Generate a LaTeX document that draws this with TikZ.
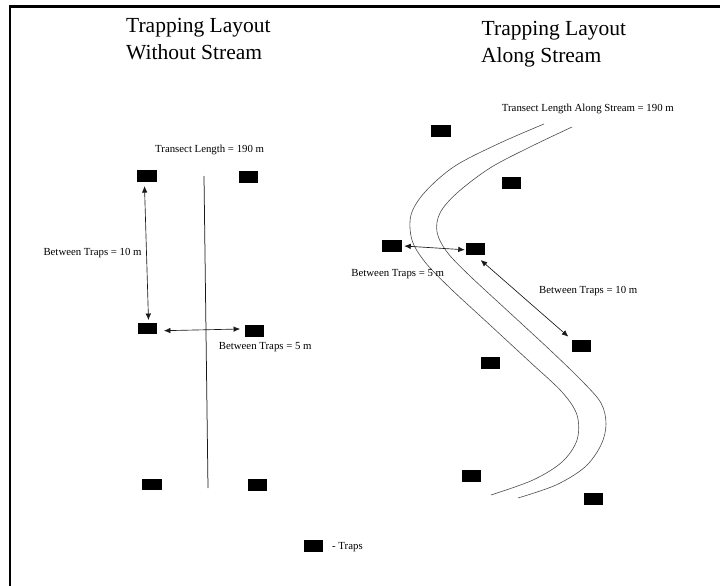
\documentclass[tikz,border=0pt]{standalone}
\usepackage{fontspec}
\setmainfont{Liberation Serif}
\usetikzlibrary{arrows.meta}
\begin{document}
\begin{tikzpicture}[x=1pt,y=1pt,
  trap/.style={fill=black, draw=none, minimum width=19.5pt, minimum height=11.7pt, inner sep=0pt, outer sep=0pt},
  lbl/.style={font=\fontsize{10.8}{13}\selectfont, inner sep=0pt, anchor=base west},
  ttl/.style={font=\fontsize{21.5}{26}\selectfont, inner sep=0pt, anchor=base west},
  dimarrow/.style={{Latex[length=6.5pt,width=5.5pt]}-{Latex[length=6.5pt,width=5.5pt]}, line width=0.65pt, black!90},
  stream/.style={line width=0.6pt, black!70},
  transect/.style={line width=0.75pt, black!90},
]
\useasboundingbox (0,0) rectangle (720,-586);
\fill[white] (0,0) rectangle (720,-586);
% frame
\draw[line width=2.7pt, line join=miter] (720,-6.7) -- (10,-6.7) -- (10,-586);

% titles
\node[ttl] (tl1) at (126,-32.3) {Trapping Layout};
\node[ttl] (tl2) at (126,-59.3) {Without Stream};
\node[ttl] (tr1) at (481.5,-35.7) {Trapping Layout};
\node[ttl] (tr2) at (481,-62.7) {Along Stream};

% left layout
\node[lbl] (lenL) at (155,-152.7) {Transect Length = 190 m};
\coordinate (tA) at (204,-176);
\coordinate (tB) at (208,-488);
\draw[transect] (tA) -- (tB);

\node[trap] (t1) at (147,-176) {};
\node[trap] (t2) at (248.5,-177) {};
\node[trap] (t3) at (147.5,-328.5) {};
\node[trap] (t4) at (254.5,-331) {};
\node[trap] (t5) at (152,-484.5) {};
\node[trap] (t6) at (257.5,-485) {};

\draw[dimarrow] ([xshift=-2.5pt,yshift=-4.2pt]t1.south) -- ([xshift=1pt,yshift=2.6pt]t3.north);
\draw[dimarrow] ([xshift=6.7pt,yshift=-2.2pt]t3.east) -- ([xshift=-4.7pt,yshift=2pt]t4.west);
\node[lbl] (b10L) at (43.3,-255) {Between Traps = 10 m};
\node[lbl] (b5L) at (218.7,-349) {Between Traps = 5 m};

% right layout
\node[lbl] (lenR) at (501.7,-111.7) {Transect Length Along Stream = 190 m};
\draw[stream] plot[smooth, tension=0.55] coordinates {(544,-124) (500,-143) (455,-166) (425,-192) (411,-215) (412,-240) (425,-262) (450,-288) (490,-325) (530,-362) (562,-392) (577,-415) (577,-440) (562,-462) (533,-480) (491,-495)};
\draw[stream] plot[smooth, tension=0.55] coordinates {(572,-127) (530,-147) (490,-168) (457,-193) (440,-213) (437,-232) (447,-252) (470,-276) (510,-313) (550,-350) (582,-381) (601,-403) (606,-424) (601,-445) (585,-467) (556,-485) (518,-498)};

\node[trap] (r1) at (441,-131) {};
\node[trap] (r2) at (511.3,-183) {};
\node[trap] (r3) at (392,-246) {};
\node[trap] (r4) at (475.5,-249) {};
\node[trap] (r5) at (581.7,-346) {};
\node[trap] (r6) at (490.5,-362.7) {};
\node[trap] (r7) at (471.7,-475.8) {};
\node[trap] (r8) at (593.3,-499) {};

\draw[dimarrow] ([xshift=2.5pt]r3.east) -- ([xshift=-1pt,yshift=-0.8pt]r4.west);
\draw[dimarrow] ([xshift=5.2pt,yshift=-5.2pt]r4.south) -- ([xshift=-3.6pt,yshift=3.5pt]r5.north west);
\node[lbl, anchor=base east] (b5R) at (444.3,-276.3) {Between Traps = 5 m};
\node[lbl] (b10R) at (539,-293.5) {Between Traps = 10 m};

% legend
\node[trap] (leg) at (313.5,-546) {};
\node[lbl] (legt) at (332,-549.5) {- Traps};
\end{tikzpicture}
\end{document}
